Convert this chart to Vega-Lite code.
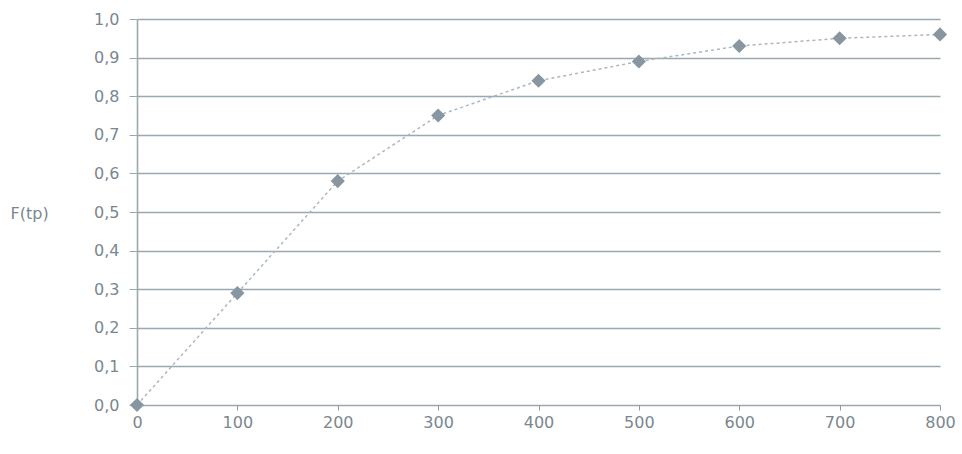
{
  "$schema": "https://vega.github.io/schema/vega-lite/v6.json",
  "width": 803,
  "height": 386,
  "autosize": {"type": "none"},
  "padding": {"left": 137, "top": 19, "right": 22, "bottom": 49},
  "background": "#ffffff",
  "config": {
    "view": {"stroke": null},
    "font": "DejaVu Sans"
  },
  "data": {
    "values": [
      {"tp": 0, "F": 0.0},
      {"tp": 100, "F": 0.29},
      {"tp": 200, "F": 0.58},
      {"tp": 300, "F": 0.75},
      {"tp": 400, "F": 0.84},
      {"tp": 500, "F": 0.89},
      {"tp": 600, "F": 0.93},
      {"tp": 700, "F": 0.95},
      {"tp": 800, "F": 0.96}
    ]
  },
  "encoding": {
    "x": {
      "field": "tp",
      "type": "quantitative",
      "scale": {"domain": [0, 800], "nice": false},
      "axis": {
        "title": null,
        "values": [0, 100, 200, 300, 400, 500, 600, 700, 800],
        "grid": false,
        "domain": false,
        "ticks": true,
        "tickSize": 5,
        "tickColor": "#8d9ba4",
        "labelColor": "#7a8790",
        "labelFontSize": 16,
        "labelPadding": 4,
        "labelFlush": false
      }
    },
    "y": {
      "field": "F",
      "type": "quantitative",
      "scale": {"domain": [0, 1], "nice": false},
      "axis": {
        "title": "F(tp)",
        "titleAngle": 0,
        "titleAlign": "left",
        "titleBaseline": "middle",
        "titleX": -127,
        "titleY": 194,
        "titleFontSize": 16,
        "titleFontWeight": "normal",
        "titleColor": "#7a8790",
        "values": [0, 0.1, 0.2, 0.3, 0.4, 0.5, 0.6, 0.7, 0.8, 0.9, 1.0],
        "labelExpr": "replace(format(datum.value, '.1f'), '.', ',')",
        "grid": true,
        "gridColor": "#9aa8b0",
        "gridWidth": 1.6,
        "domain": true,
        "domainColor": "#9aa8b0",
        "domainWidth": 1.6,
        "ticks": true,
        "tickSize": 8,
        "tickColor": "#9aa8b0",
        "labelColor": "#7a8790",
        "labelFontSize": 16,
        "labelPadding": 10
      }
    }
  },
  "layer": [
    {
      "mark": {"type": "line", "color": "#a9b8c2", "strokeWidth": 1.5, "strokeDash": [3, 3]}
    },
    {
      "mark": {"type": "point", "shape": "diamond", "filled": true, "color": "#8796a0", "size": 200, "opacity": 1}
    }
  ]
}
